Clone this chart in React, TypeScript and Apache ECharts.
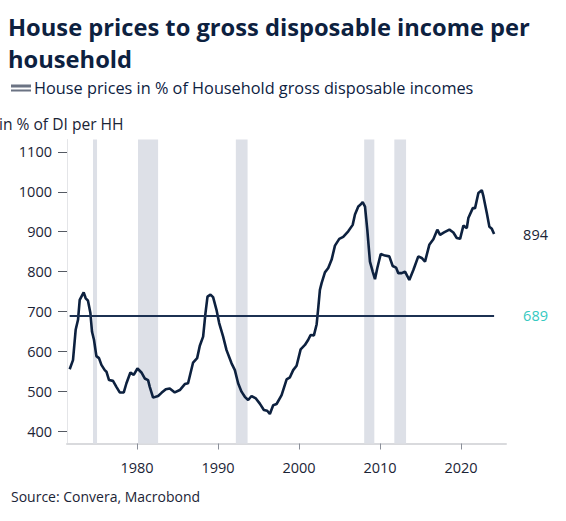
import React, { useEffect, useRef } from 'react';
import * as echarts from 'echarts';

// house prices in % of household gross disposable income
const years = [
  1971.68, 1972.09, 1972.42, 1972.71, 1972.92, 1973.41, 1973.66, 1973.94, 1974.24, 1974.44,
  1974.68, 1974.98, 1975.3, 1975.6, 1976.01, 1976.22, 1976.54, 1977.03, 1977.45, 1977.86,
  1978.36, 1978.69, 1979.18, 1979.59, 1980.05, 1980.54, 1980.95, 1981.36, 1981.57, 1981.98,
  1982.6, 1983.02, 1983.55, 1984.04, 1984.66, 1985.28, 1985.9, 1986.3, 1986.92, 1987.42,
  1987.75, 1988.16, 1988.45, 1988.7, 1989.07, 1989.39, 1989.81, 1990.14, 1990.63, 1991.05,
  1991.67, 1992.08, 1992.48, 1992.9, 1993.31, 1993.72, 1994.14, 1994.67, 1995.16, 1995.66,
  1996.07, 1996.4, 1996.81, 1997.23, 1997.85, 1998.47, 1998.88, 1999.28, 1999.7, 2000.2,
  2000.73, 2001.14, 2001.43, 2001.84, 2002.18, 2002.37, 2002.58, 2002.79, 2003.2, 2003.61,
  2004.03, 2004.44, 2004.97, 2005.46, 2006.08, 2006.63, 2006.91, 2007.32, 2007.61, 2007.86,
  2008.15, 2008.43, 2008.76, 2009.1, 2009.38, 2009.67, 2010.09, 2010.62, 2011.15, 2011.57,
  2011.98, 2012.26, 2012.68, 2013.09, 2013.62, 2014.12, 2014.73, 2015.15, 2015.56, 2016.09,
  2016.59, 2017.08, 2017.42, 2017.91, 2018.57, 2019.06, 2019.48, 2019.89, 2020.3, 2020.72,
  2020.91, 2021.46, 2021.74, 2022.15, 2022.57, 2022.77, 2023.19, 2023.51, 2023.81, 2024.09,
];
const ratio = [
  555, 578, 654, 679, 729, 748, 733, 727, 696, 649,
  629, 588, 583, 566, 553, 549, 528, 526, 511, 497,
  497, 520, 547, 541, 557, 547, 532, 528, 511, 484,
  488, 496, 505, 507, 497, 503, 518, 520, 572, 583,
  614, 637, 696, 737, 742, 736, 704, 671, 637, 603,
  570, 553, 520, 499, 486, 478, 488, 482, 469, 453,
  451, 443, 465, 468, 490, 530, 535, 553, 564, 605,
  616, 629, 641, 640, 668, 708, 754, 771, 798, 809,
  830, 865, 882, 887, 901, 917, 943, 963, 968, 974,
  963, 905, 825, 800, 781, 809, 844, 840, 838, 814,
  810, 796, 796, 800, 779, 804, 838, 834, 825, 867,
  881, 905, 892, 898, 905, 898, 884, 882, 915, 909,
  934, 959, 959, 997, 1004, 989, 947, 912, 907, 894,
];
const longRunAverage = 689;
const lastValue = 894;

// shaded recession periods [start, end]
const recessions = [
  [1974.56, 1975.06],
  [1980.12, 1982.6],
  [1992.2, 1993.65],
  [2008.05, 2009.3],
  [2011.77, 2013.22],
];

const yTicks = [400, 500, 600, 700, 800, 900, 1000, 1100];
const xTicks = [1980, 1990, 2000, 2010, 2020];

const FONT = "'Open Sans', 'Noto Sans', sans-serif";
const NAVY = '#0d213f';
const TEXT = '#1b2436';

const App: React.FC = () => {
  const chartRef = useRef<HTMLDivElement>(null);

  useEffect(() => {
    if (!chartRef.current) return undefined;
    const chart = echarts.init(chartRef.current, undefined, { renderer: 'svg' });

    const option: any = {
      animation: false,
      backgroundColor: '#ffffff',
      textStyle: { fontFamily: FONT },
      title: [
        {
          text: 'House prices to gross disposable income per\nhousehold',
          left: 8,
          top: 11,
          padding: 0,
          textStyle: { fontFamily: FONT, fontSize: 23.7, fontWeight: 'bold', color: NAVY, lineHeight: 32 },
        },
        {
          text: 'in % of DI per HH',
          left: -1,
          top: 116,
          padding: 0,
          textStyle: { fontFamily: FONT, fontSize: 15.6, fontWeight: 'normal', color: TEXT },
        },
        {
          text: 'Source: Convera, Macrobond',
          left: 11,
          top: 489,
          padding: 0,
          textStyle: { fontFamily: FONT, fontSize: 14, fontWeight: 'normal', color: TEXT },
        },
      ],
      legend: {
        left: 11,
        top: 80,
        padding: 0,
        itemWidth: 20,
        itemHeight: 7,
        itemGap: 4,
        icon: 'path://M0,0H20V3H0ZM0,5H20V7H0Z',
        textStyle: { fontFamily: FONT, fontSize: 16.3, color: NAVY, padding: [0, 0, 0, -2] },
        data: [{ name: 'House prices in % of Household gross disposable incomes', itemStyle: { color: '#6b7383' } }],
      },
      grid: { left: 67, right: 60, top: 139.5, bottom: 77.5, outerBoundsMode: 'none' },
      xAxis: {
        type: 'value',
        min: 1971.35,
        max: 2025.56,
        splitLine: { show: false },
        axisLine: { lineStyle: { color: '#d9dadd', width: 2 } },
        axisTick: { customValues: xTicks, length: 6, lineStyle: { color: '#8a8f99' } },
        axisLabel: {
          customValues: xTicks,
          formatter: (v: number) => String(v),
          margin: 16,
          fontFamily: FONT,
          fontSize: 14.5,
          color: TEXT,
        },
      },
      yAxis: {
        type: 'value',
        min: 369,
        max: 1131,
        splitLine: { show: false },
        axisLine: { show: true, lineStyle: { color: '#e4e5e8', width: 1 } },
        axisTick: { show: true, customValues: yTicks, length: 9, lineStyle: { color: '#555a63' } },
        axisLabel: {
          customValues: yTicks,
          formatter: (v: number) => String(v),
          margin: 15,
          fontFamily: FONT,
          fontSize: 14.5,
          color: TEXT,
        },
      },
      series: [
        {
          name: 'House prices in % of Household gross disposable incomes',
          type: 'line',
          data: years.map((y, i) => [y, ratio[i]]),
          symbol: 'none',
          color: NAVY,
          lineStyle: { color: NAVY, width: 2.6 },
          z: 3,
          endLabel: {
            show: true,
            formatter: String(lastValue),
            distance: 29,
            fontFamily: FONT,
            fontSize: 14.5,
            color: TEXT,
          },
          markArea: {
            silent: true,
            itemStyle: { color: '#dde0e7' },
            data: recessions.map(([a, b]) => [{ xAxis: a }, { xAxis: b }]),
          },
        },
        {
          name: 'average',
          type: 'line',
          data: [],
          z: 2,
          markLine: {
            silent: true,
            symbol: 'none',
            lineStyle: { color: '#1c3152', width: 2, type: 'solid' },
            label: {
              position: 'end',
              formatter: String(longRunAverage),
              distance: 29,
              fontFamily: FONT,
              fontSize: 14.5,
              color: '#35c9c1',
            },
            data: [
              [
                { coord: [years[0], longRunAverage] },
                { coord: [years[years.length - 1], longRunAverage] },
              ],
            ],
          },
        },
      ],
    };

    chart.setOption(option);
    return () => chart.dispose();
  }, []);

  return (
    <div
      ref={chartRef}
      style={{ position: 'absolute', left: 0, top: 0, width: '566px', height: '521px' }}
    />
  );
};

export default App;
